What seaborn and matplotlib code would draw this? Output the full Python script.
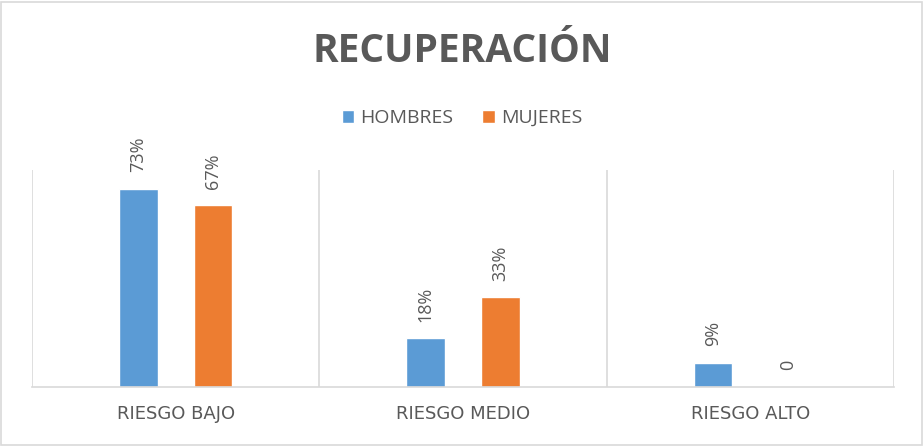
import matplotlib
matplotlib.use("Agg")
import matplotlib.pyplot as plt
import seaborn as sns
import pandas as pd
from matplotlib.patches import Rectangle

categories = ["RIESGO BAJO", "RIESGO MEDIO", "RIESGO ALTO"]
series_names = ["HOMBRES", "MUJERES"]
hombres = [0.73, 0.18, 0.09]
mujeres = [0.67, 0.33, 0.0]
labels_hombres = ["73%", "18%", "9%"]
labels_mujeres = ["67%", "33%", "0"]
title = "RECUPERACIÓN"

colors = ["#5B9BD5", "#ED7D31"]
text_color = "#595959"
grid_color = "#D9D9D9"

df = pd.DataFrame({
    "cat": categories * 2,
    "sexo": [series_names[0]] * 3 + [series_names[1]] * 3,
    "val": hombres + mujeres,
})

sns.set_theme(style="white")
plt.rcParams["font.family"] = ["Open Sans", "DejaVu Sans"]

fig = plt.figure(figsize=(9.24, 4.46), dpi=100)
ax = fig.add_axes([32 / 924, 59 / 446, 862 / 924, 217 / 446])

sns.barplot(data=df, x="cat", y="val", hue="sexo", palette=colors,
            width=0.52, gap=0.48, saturation=1, ax=ax, errorbar=None)

ax.set_xlim(-0.5, 2.5)
ax.set_ylim(0, 0.8)
ax.set_xlabel("")
ax.set_ylabel("")
ax.set_yticks([])
for s in ["top", "right", "left"]:
    ax.spines[s].set_visible(False)
ax.spines["bottom"].set_color(grid_color)
ax.spines["bottom"].set_linewidth(1.2)

ax.set_xticks([-0.5, 0.5, 1.5, 2.5], minor=True)
ax.grid(True, which="minor", axis="x", color=grid_color, linewidth=1.2)
ax.tick_params(axis="x", which="both", length=0, pad=13)
ax.set_xticks(range(len(categories)))
ax.set_xticklabels(categories, fontsize=13, color=text_color,
                   family=["DejaVu Sans"])

for cont, labs in zip(ax.containers, [labels_hombres, labels_mujeres]):
    ax.bar_label(cont, labels=labs, rotation=90, padding=12,
                 fontsize=13, color=text_color)

handles, _ = ax.get_legend_handles_labels()
ax.legend(handles, series_names, loc="center", ncol=2, frameon=False,
          bbox_to_anchor=(0.5, 1 - 118 / 446), bbox_transform=fig.transFigure,
          handlelength=0.65, handleheight=0.65, handletextpad=0.3,
          columnspacing=1.5, fontsize=14, labelcolor=text_color)

fig.text(0.5, 1 - 52 / 446, title, ha="center", va="center",
         fontsize=28, fontweight="bold", color=text_color)

fig.patches.append(Rectangle((1 / 924, 1 / 446), 921 / 924, 443 / 446,
                             transform=fig.transFigure, fill=False,
                             edgecolor=grid_color, linewidth=1.2))

fig.savefig("out.png", dpi=100)
